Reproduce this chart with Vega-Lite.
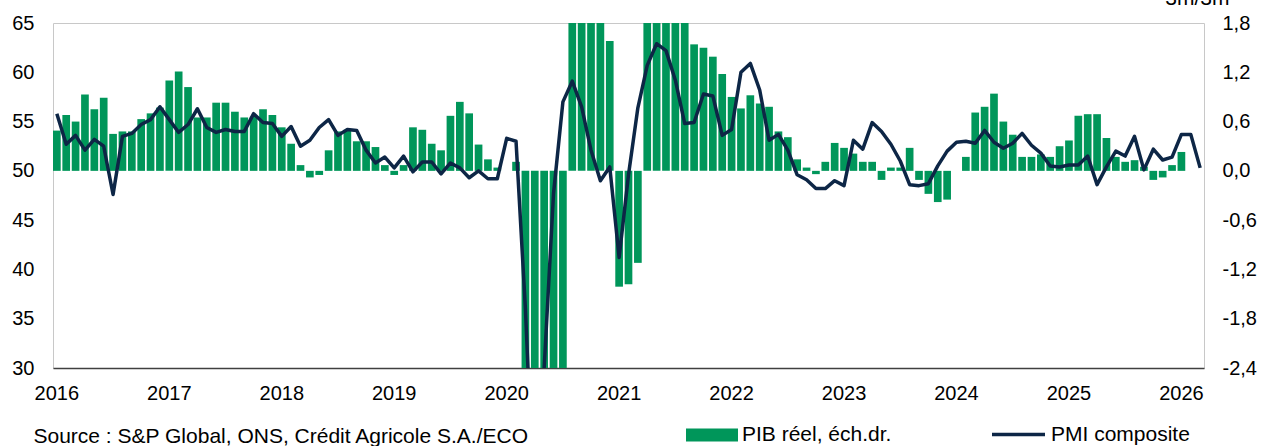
{
 "$schema": "https://vega.github.io/schema/vega-lite/v6.json",
 "width": 1151,
 "height": 345,
 "autosize": {"type": "none"},
 "padding": {"left": 53, "top": 23, "right": 58, "bottom": 78},
 "background": "white",
 "config": {
  "font": "Liberation Sans",
  "view": {"stroke": "#c8c8c8", "strokeWidth": 1},
  "axis": {"labelFont": "Liberation Sans", "labelFontSize": 20, "labelColor": "#000000", "ticks": false, "grid": false, "domain": false, "titleFont": "Liberation Sans", "titleFontWeight": "normal", "titleColor": "#000000", "titleFontSize": 21},
  "legend": {"labelFont": "Liberation Sans", "labelFontSize": 21, "labelColor": "#000000", "padding": 0}
 },
 "data": {"values": [
  {"m":"2016-01","pmi":55.8,"gdp":0.49},{"m":"2016-02","pmi":52.7,"gdp":0.68},{"m":"2016-03","pmi":53.6,"gdp":0.60},{"m":"2016-04","pmi":52.1,"gdp":0.93},{"m":"2016-05","pmi":53.2,"gdp":0.75},{"m":"2016-06","pmi":52.5,"gdp":0.89},{"m":"2016-07","pmi":47.6,"gdp":0.45},{"m":"2016-08","pmi":53.5,"gdp":0.48},{"m":"2016-09","pmi":53.8,"gdp":0.48},{"m":"2016-10","pmi":54.7,"gdp":0.63},{"m":"2016-11","pmi":55.2,"gdp":0.70},{"m":"2016-12","pmi":56.5,"gdp":0.77},
  {"m":"2017-01","pmi":55.2,"gdp":1.10},{"m":"2017-02","pmi":53.9,"gdp":1.21},{"m":"2017-03","pmi":54.7,"gdp":1.02},{"m":"2017-04","pmi":56.3,"gdp":0.65},{"m":"2017-05","pmi":54.4,"gdp":0.65},{"m":"2017-06","pmi":53.9,"gdp":0.83},{"m":"2017-07","pmi":54.2,"gdp":0.83},{"m":"2017-08","pmi":54.0,"gdp":0.72},{"m":"2017-09","pmi":54.0,"gdp":0.65},{"m":"2017-10","pmi":55.8,"gdp":0.66},{"m":"2017-11","pmi":54.9,"gdp":0.75},{"m":"2017-12","pmi":54.8,"gdp":0.68},
  {"m":"2018-01","pmi":53.5,"gdp":0.53},{"m":"2018-02","pmi":54.5,"gdp":0.33},{"m":"2018-03","pmi":52.5,"gdp":0.07},{"m":"2018-04","pmi":53.1,"gdp":-0.08},{"m":"2018-05","pmi":54.4,"gdp":-0.05},{"m":"2018-06","pmi":55.2,"gdp":0.25},{"m":"2018-07","pmi":53.6,"gdp":0.48},{"m":"2018-08","pmi":54.2,"gdp":0.50},{"m":"2018-09","pmi":54.1,"gdp":0.36},{"m":"2018-10","pmi":52.1,"gdp":0.36},{"m":"2018-11","pmi":50.8,"gdp":0.29},{"m":"2018-12","pmi":51.4,"gdp":0.07},
  {"m":"2019-01","pmi":50.3,"gdp":-0.05},{"m":"2019-02","pmi":51.5,"gdp":0.07},{"m":"2019-03","pmi":49.9,"gdp":0.53},{"m":"2019-04","pmi":50.9,"gdp":0.50},{"m":"2019-05","pmi":50.9,"gdp":0.33},{"m":"2019-06","pmi":49.7,"gdp":0.25},{"m":"2019-07","pmi":50.8,"gdp":0.67},{"m":"2019-08","pmi":50.3,"gdp":0.84},{"m":"2019-09","pmi":49.3,"gdp":0.70},{"m":"2019-10","pmi":50.0,"gdp":0.32},{"m":"2019-11","pmi":49.2,"gdp":0.14},{"m":"2019-12","pmi":49.2,"gdp":0.04},
  {"m":"2020-01","pmi":53.3,"gdp":0.0},{"m":"2020-02","pmi":53.0,"gdp":0.11},{"m":"2020-03","pmi":36.0,"gdp":-2.6},{"m":"2020-04","pmi":13.8,"gdp":-10.5},{"m":"2020-05","pmi":30.0,"gdp":-19.5},{"m":"2020-06","pmi":47.7,"gdp":-20.0},{"m":"2020-07","pmi":57.0,"gdp":-8.0},{"m":"2020-08","pmi":59.1,"gdp":8.0},{"m":"2020-09","pmi":56.5,"gdp":16.0},{"m":"2020-10","pmi":52.1,"gdp":15.0},{"m":"2020-11","pmi":49.0,"gdp":4.0},{"m":"2020-12","pmi":50.4,"gdp":1.58},
  {"m":"2021-01","pmi":41.2,"gdp":-1.41},{"m":"2021-02","pmi":49.6,"gdp":-1.38},{"m":"2021-03","pmi":56.4,"gdp":-1.12},{"m":"2021-04","pmi":60.7,"gdp":3.5},{"m":"2021-05","pmi":62.9,"gdp":4.5},{"m":"2021-06","pmi":62.2,"gdp":5.0},{"m":"2021-07","pmi":59.2,"gdp":3.5},{"m":"2021-08","pmi":54.8,"gdp":2.0},{"m":"2021-09","pmi":54.9,"gdp":1.54},{"m":"2021-10","pmi":57.8,"gdp":1.50},{"m":"2021-11","pmi":57.6,"gdp":1.39},{"m":"2021-12","pmi":53.6,"gdp":1.18},
  {"m":"2022-01","pmi":54.2,"gdp":0.90},{"m":"2022-02","pmi":60.0,"gdp":0.76},{"m":"2022-03","pmi":60.9,"gdp":0.92},{"m":"2022-04","pmi":58.2,"gdp":0.82},{"m":"2022-05","pmi":53.1,"gdp":0.78},{"m":"2022-06","pmi":53.7,"gdp":0.48},{"m":"2022-07","pmi":52.1,"gdp":0.41},{"m":"2022-08","pmi":49.6,"gdp":0.14},{"m":"2022-09","pmi":49.1,"gdp":0.04},{"m":"2022-10","pmi":48.2,"gdp":-0.04},{"m":"2022-11","pmi":48.2,"gdp":0.11},{"m":"2022-12","pmi":49.0,"gdp":0.34},
  {"m":"2023-01","pmi":48.5,"gdp":0.28},{"m":"2023-02","pmi":53.1,"gdp":0.21},{"m":"2023-03","pmi":52.2,"gdp":0.11},{"m":"2023-04","pmi":54.9,"gdp":0.11},{"m":"2023-05","pmi":54.0,"gdp":-0.11},{"m":"2023-06","pmi":52.7,"gdp":0.04},{"m":"2023-07","pmi":51.0,"gdp":0.04},{"m":"2023-08","pmi":48.6,"gdp":0.28},{"m":"2023-09","pmi":48.5,"gdp":-0.11},{"m":"2023-10","pmi":48.7,"gdp":-0.28},{"m":"2023-11","pmi":50.5,"gdp":-0.38},{"m":"2023-12","pmi":52.0,"gdp":-0.35},
  {"m":"2024-01","pmi":52.9,"gdp":0.0},{"m":"2024-02","pmi":53.0,"gdp":0.17},{"m":"2024-03","pmi":52.8,"gdp":0.71},{"m":"2024-04","pmi":54.1,"gdp":0.78},{"m":"2024-05","pmi":52.9,"gdp":0.94},{"m":"2024-06","pmi":52.3,"gdp":0.60},{"m":"2024-07","pmi":52.8,"gdp":0.44},{"m":"2024-08","pmi":53.8,"gdp":0.17},{"m":"2024-09","pmi":52.6,"gdp":0.17},{"m":"2024-10","pmi":51.8,"gdp":0.20},{"m":"2024-11","pmi":50.5,"gdp":0.17},{"m":"2024-12","pmi":50.4,"gdp":0.30},
  {"m":"2025-01","pmi":50.6,"gdp":0.37},{"m":"2025-02","pmi":50.6,"gdp":0.67},{"m":"2025-03","pmi":51.5,"gdp":0.69},{"m":"2025-04","pmi":48.6,"gdp":0.69},{"m":"2025-05","pmi":50.4,"gdp":0.40},{"m":"2025-06","pmi":52.0,"gdp":0.17},{"m":"2025-07","pmi":51.5,"gdp":0.11},{"m":"2025-08","pmi":53.5,"gdp":0.13},{"m":"2025-09","pmi":50.1,"gdp":0.05},{"m":"2025-10","pmi":52.2,"gdp":-0.11},{"m":"2025-11","pmi":51.1,"gdp":-0.08},{"m":"2025-12","pmi":51.4,"gdp":0.07},
  {"m":"2026-01","pmi":53.7,"gdp":0.23},{"m":"2026-02","pmi":53.7,"gdp":null},{"m":"2026-03","pmi":50.3,"gdp":null}
 ]},
 "encoding": {
  "x": {
   "field": "m", "type": "ordinal",
   "scale": {"paddingInner": 0.18, "paddingOuter": 0},
   "axis": {
    "values": ["2016-01","2017-01","2018-01","2019-01","2020-01","2021-01","2022-01","2023-01","2024-01","2025-01","2026-01"],
    "labelExpr": "substring(datum.value, 0, 4)",
    "labelAngle": 0, "labelPadding": 15,
    "domain": true, "domainColor": "#404040", "domainWidth": 1.5,
    "title": "Source : S&P Global, ONS, Crédit Agricole S.A./ECO",
    "titleAnchor": "start", "titleAlign": "left", "titleBaseline": "middle",
    "titleX": -20, "titleY": 68
   }
  }
 },
 "layer": [
  {
   "mark": {"type": "bar", "clip": true},
   "encoding": {
    "y": {
     "field": "gdp", "type": "quantitative",
     "scale": {"domain": [-2.4, 1.8], "nice": false, "zero": true},
     "axis": {
      "orient": "right",
      "values": [-2.4, -1.8, -1.2, -0.6, 0, 0.6, 1.2, 1.8],
      "labelExpr": "replace((datum.value < 0 ? '-' : '') + format(abs(datum.value), '.1f'), '.', ',')",
      "labelPadding": 18,
      "title": "3m/3m", "titleAngle": 0, "titleAlign": "right", "titleBaseline": "alphabetic",
      "titleX": 25, "titleY": -19
     }
    },
    "fill": {
     "datum": "PIB réel, éch.dr.", "type": "nominal",
     "scale": {"range": ["#00965a"]},
     "legend": {
      "orient": "none", "legendX": 633, "legendY": 386, "title": null,
      "symbolType": "M-1,-0.25H1V0.25H-1Z", "symbolSize": 2704,
      "symbolStrokeWidth": 0, "labelOffset": 4
     }
    }
   }
  },
  {
   "mark": {"type": "line", "clip": true, "strokeWidth": 3.5, "strokeJoin": "round"},
   "encoding": {
    "y": {
     "field": "pmi", "type": "quantitative",
     "scale": {"domain": [30, 65], "nice": false, "zero": false},
     "axis": {
      "orient": "left",
      "values": [30, 35, 40, 45, 50, 55, 60, 65],
      "labelPadding": 19,
      "title": null
     }
    },
    "stroke": {
     "datum": "PMI composite", "type": "nominal",
     "scale": {"range": ["#0d2646"]},
     "legend": {
      "orient": "none", "legendX": 937, "legendY": 383, "title": null,
      "symbolType": "stroke", "symbolSize": 2809,
      "symbolStrokeWidth": 3.5, "labelOffset": 4
     }
    }
   }
  }
 ],
 "resolve": {"scale": {"y": "independent"}}
}
